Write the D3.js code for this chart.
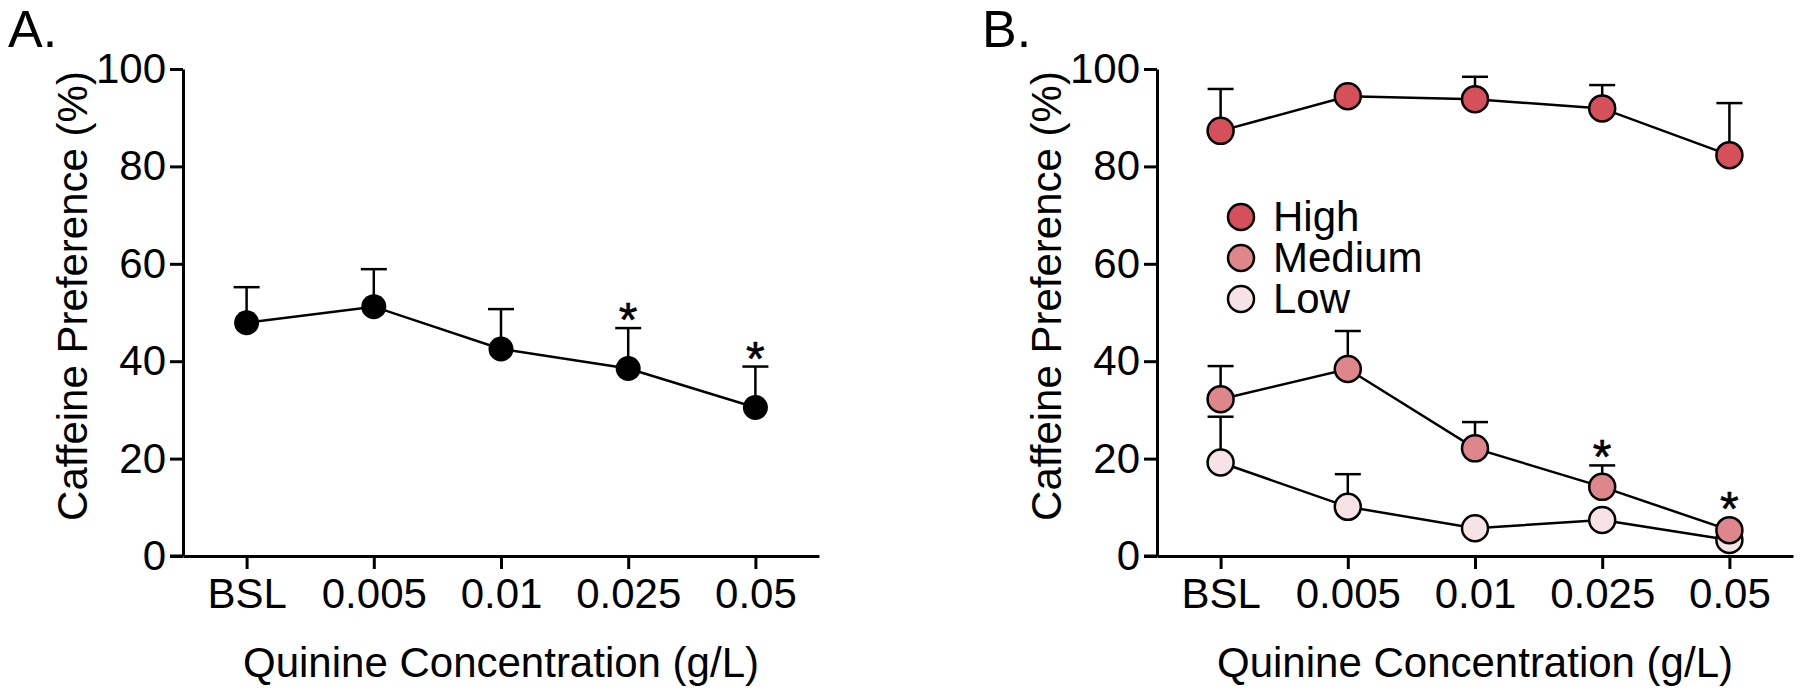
<!DOCTYPE html>
<html>
<head>
<meta charset="utf-8">
<script src="https://cdn.jsdelivr.net/npm/d3@7"></script>
<style>
  html, body { margin: 0; padding: 0; background: #fff; }
  svg { display: block; font-family: "Liberation Sans", Arial, Helvetica, sans-serif; }
</style>
</head>
<body>
<svg id="chart" width="1800" height="694"></svg>
<script>
// ---- data ----
const categories = ["BSL", "0.005", "0.01", "0.025", "0.05"];
const yTicks = [0, 20, 40, 60, 80, 100];

const meanA = [47.9, 51.2, 42.5, 38.5, 30.5];
const semA  = [7.3, 7.7, 8.2, 8.3, 8.4];
const starsA = [false, false, false, true, true];

const seriesNames = ["High", "Medium", "Low"];
const seriesColors = ["#d6505c", "#df868c", "#f7e3e5"];
const meanHigh = [87.3, 94.4, 93.8, 91.9, 82.3];
const semHigh  = [8.6, null, 4.6, 4.8, 10.7];
const meanMedium = [32.2, 38.4, 22.1, 14.2, 5.3];
const semMedium  = [6.8, 7.8, 5.4, 4.4, null];
const meanLow = [19.2, 10.1, 5.7, 7.4, 3.3];
const semLow  = [9.4, 6.7, null, null, null];
const starsMedium = [false, false, false, true, true];

const xTitle = "Quinine Concentration (g/L)";
const yTitle = "Caffeine Preference (%)";

// ---- drawing ----
const svg = d3.select("#chart");
const y = d3.scaleLinear().domain([0, 100]).range([556, 69]);
const FS = 42;

function drawPanel(x0, label, series, showLegend) {
  const x = d3.scalePoint().domain(categories).range([x0, x0 + 636]).padding(0.5);
  const g = svg.append("g");

  // panel label
  g.append("text").attr("x", x0 - 175).attr("y", 47)
    .attr("font-size", 52).attr("fill", "#000").text(label);

  // axes
  const xAxis = d3.axisBottom(x).tickSize(13).tickSizeOuter(0).tickPadding(9);
  const yAxis = d3.axisLeft(y).tickValues(yTicks).tickSize(13).tickSizeOuter(0).tickPadding(4);

  const gx = g.append("g").attr("transform", `translate(0,${y(0)})`).call(xAxis);
  const gy = g.append("g").attr("transform", `translate(${x0},0)`).call(yAxis);
  [gx, gy].forEach(a => {
    a.selectAll(".domain").attr("stroke", "#000").attr("stroke-width", 3);
    a.selectAll(".tick line").attr("stroke", "#000").attr("stroke-width", 3);
    a.selectAll(".tick text").attr("fill", "#000").attr("font-size", FS)
      .attr("font-family", "'Liberation Sans', Arial, sans-serif");
  });
  // extend x-axis line left to y-axis tick start
  g.append("line").attr("x1", x0 - 13).attr("x2", x0).attr("y1", y(0)).attr("y2", y(0))
    .attr("stroke", "#000").attr("stroke-width", 3);

  // titles
  g.append("text").attr("x", x0 + 318).attr("y", 677).attr("text-anchor", "middle")
    .attr("font-size", FS).attr("fill", "#000").text(xTitle);
  g.append("text").attr("transform", `translate(${x0 - 96},296) rotate(-90)`)
    .attr("text-anchor", "middle").attr("font-size", FS).attr("fill", "#000").text(yTitle);

  const line = d3.line().x((d, i) => x(categories[i])).y(d => y(d));

  // lines
  series.forEach(s => {
    g.append("path").datum(s.mean).attr("d", line)
      .attr("fill", "none").attr("stroke", "#000").attr("stroke-width", 2.5);
  });
  // error bars
  series.forEach(s => {
    s.mean.forEach((m, i) => {
      if (s.sem[i] == null) return;
      const cx = x(categories[i]);
      const top = y(m + s.sem[i]);
      g.append("line").attr("x1", cx).attr("x2", cx).attr("y1", y(m)).attr("y2", top)
        .attr("stroke", "#000").attr("stroke-width", 2.5);
      g.append("line").attr("x1", cx - 13).attr("x2", cx + 13).attr("y1", top).attr("y2", top)
        .attr("stroke", "#000").attr("stroke-width", 2.5);
    });
  });
  // markers (draw in reverse so first series on top)
  series.slice().reverse().forEach(s => {
    g.selectAll(null).data(s.mean).enter().append("circle")
      .attr("cx", (d, i) => x(categories[i])).attr("cy", d => y(d))
      .attr("r", s.r).attr("fill", s.color)
      .attr("stroke", "#000").attr("stroke-width", s.stroke);
  });
  // stars
  series.forEach(s => {
    if (!s.stars) return;
    s.mean.forEach((m, i) => {
      if (!s.stars[i]) return;
      const anchor = s.sem[i] != null ? y(m + s.sem[i]) : y(m) - s.r;
      g.append("text").attr("x", x(categories[i])).attr("y", anchor + 8)
        .attr("text-anchor", "middle").attr("font-size", 48).attr("fill", "#000")
        .attr("stroke", "#000").attr("stroke-width", 0.6).text("*");
    });
  });

  if (showLegend) {
    seriesNames.forEach((n, i) => {
      const cy = 217 + i * 41;
      g.append("circle").attr("cx", x0 + 84).attr("cy", cy).attr("r", 13)
        .attr("fill", seriesColors[i]).attr("stroke", "#000").attr("stroke-width", 2.5);
      g.append("text").attr("x", x0 + 116).attr("y", cy + 14)
        .attr("font-size", FS).attr("fill", "#000").text(n);
    });
  }
}

drawPanel(183, "A.", [
  { mean: meanA, sem: semA, color: "#000", r: 12.5, stroke: 0, stars: starsA }
], false);

drawPanel(1157, "B.", [
  { mean: meanHigh, sem: semHigh, color: seriesColors[0], r: 13, stroke: 2.5 },
  { mean: meanMedium, sem: semMedium, color: seriesColors[1], r: 13, stroke: 2.5, stars: starsMedium },
  { mean: meanLow, sem: semLow, color: seriesColors[2], r: 13, stroke: 2.5 }
], true);
</script>
</body>
</html>
